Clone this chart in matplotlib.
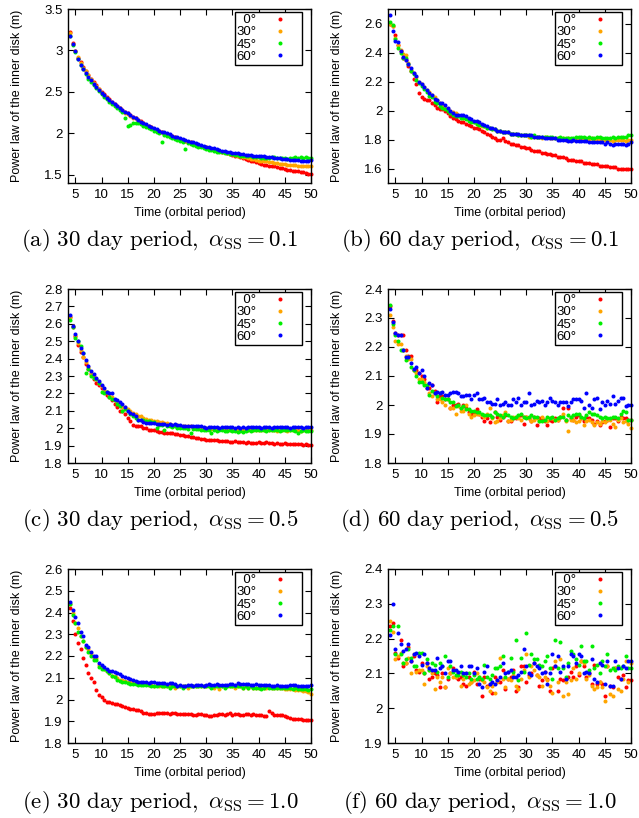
import numpy as np
import matplotlib
matplotlib.use('Agg')
import matplotlib.pyplot as plt
from matplotlib.lines import Line2D
from matplotlib.ticker import FormatStrFormatter

plt.rcParams['font.family'] = ['Liberation Sans', 'DejaVu Sans']
plt.rcParams['mathtext.fontset'] = 'cm'

# time grid (orbital period), one sample every half period
TIME = np.arange(4.0, 50.01, 0.5)
labels = ['\u20070°', '30°', '45°', '60°']
colors = ['#ff0000', '#ffa500', '#00ee00', '#0000ff']

# (a) 30 day period, alpha = 0.1
a_red = [3.22, 3.09, 2.99, 2.91, 2.86, 2.80, 2.75, 2.70, 2.66, 2.62,
         2.58, 2.54, 2.50, 2.47, 2.44, 2.41, 2.38, 2.35, 2.33, 2.30,
         2.28, 2.26, 2.24, 2.22, 2.20, 2.18, 2.16, 2.15, 2.12, 2.10,
         2.09, 2.07, 2.05, 2.04, 2.03, 2.01, 2.00, 1.99, 1.98, 1.97,
         1.96, 1.94, 1.93, 1.92, 1.91, 1.90, 1.89, 1.88, 1.87, 1.86,
         1.85, 1.84, 1.83, 1.82, 1.81, 1.80, 1.80, 1.79, 1.78, 1.77,
         1.76, 1.75, 1.74, 1.73, 1.72, 1.71, 1.70, 1.69, 1.68, 1.67,
         1.66, 1.65, 1.64, 1.63, 1.62, 1.62, 1.61, 1.60, 1.60, 1.59,
         1.58, 1.58, 1.57, 1.56, 1.56, 1.55, 1.55, 1.54, 1.53, 1.53,
         1.52, 1.51, 1.51]
a_orange = [3.21, 3.08, 2.99, 2.92, 2.85, 2.79, 2.75, 2.70, 2.65, 2.61,
            2.57, 2.53, 2.49, 2.46, 2.43, 2.40, 2.37, 2.34, 2.32, 2.30,
            2.27, 2.25, 2.23, 2.21, 2.19, 2.18, 2.16, 2.14, 2.12, 2.10,
            2.08, 2.07, 2.05, 2.03, 2.02, 2.01, 1.99, 1.98, 1.97, 1.96,
            1.95, 1.94, 1.93, 1.92, 1.91, 1.90, 1.89, 1.88, 1.87, 1.86,
            1.85, 1.84, 1.83, 1.82, 1.81, 1.80, 1.79, 1.79, 1.78, 1.77,
            1.76, 1.75, 1.75, 1.74, 1.73, 1.72, 1.71, 1.71, 1.70, 1.69,
            1.69, 1.68, 1.67, 1.67, 1.66, 1.66, 1.65, 1.65, 1.64, 1.64,
            1.63, 1.63, 1.63, 1.62, 1.62, 1.62, 1.62, 1.61, 1.61, 1.61,
            1.61, 1.61, 1.61]
a_green = [3.17, 3.07, 2.98, 2.90, 2.82, 2.77, 2.71, 2.66, 2.62, 2.58,
           2.55, 2.51, 2.47, 2.44, 2.41, 2.38, 2.35, 2.33, 2.30, 2.28,
           2.26, 2.18, 2.09, 2.10, 2.12, 2.13, 2.12, 2.11, 2.09, 2.08,
           2.06, 2.05, 2.03, 2.02, 2.00, 1.90, 1.98, 1.97, 1.96, 1.94,
           1.93, 1.92, 1.91, 1.90, 1.81, 1.88, 1.87, 1.86, 1.85, 1.84,
           1.83, 1.82, 1.81, 1.80, 1.80, 1.79, 1.78, 1.78, 1.77, 1.76,
           1.76, 1.75, 1.75, 1.74, 1.74, 1.73, 1.73, 1.72, 1.72, 1.72,
           1.71, 1.71, 1.71, 1.70, 1.70, 1.70, 1.70, 1.71, 1.71, 1.70,
           1.70, 1.70, 1.70, 1.69, 1.70, 1.70, 1.71, 1.70, 1.71, 1.70,
           1.71, 1.70, 1.70]
a_blue = [3.18, 3.08, 2.99, 2.90, 2.83, 2.78, 2.73, 2.68, 2.64, 2.60,
          2.56, 2.52, 2.49, 2.46, 2.43, 2.40, 2.38, 2.35, 2.33, 2.31,
          2.28, 2.26, 2.24, 2.22, 2.20, 2.18, 2.16, 2.14, 2.13, 2.11,
          2.09, 2.08, 2.06, 2.05, 2.03, 2.02, 2.01, 2.00, 1.99, 1.97,
          1.96, 1.95, 1.94, 1.93, 1.92, 1.91, 1.90, 1.89, 1.88, 1.87,
          1.86, 1.85, 1.84, 1.83, 1.82, 1.82, 1.81, 1.80, 1.79, 1.79,
          1.78, 1.77, 1.76, 1.76, 1.76, 1.75, 1.75, 1.74, 1.74, 1.74,
          1.73, 1.73, 1.73, 1.72, 1.72, 1.71, 1.71, 1.71, 1.70, 1.70,
          1.70, 1.69, 1.69, 1.69, 1.68, 1.68, 1.68, 1.68, 1.67, 1.67,
          1.67, 1.67, 1.68]

# (b) 60 day period, alpha = 0.1
b_red = [2.60, 2.58, 2.52, 2.45, 2.41, 2.36, 2.35, 2.31, 2.27, 2.22,
         2.18, 2.12, 2.09, 2.08, 2.07, 2.07, 2.05, 2.04, 2.02, 2.01,
         2.01, 2.00, 1.98, 1.96, 1.95, 1.94, 1.93, 1.92, 1.92, 1.91,
         1.90, 1.89, 1.88, 1.88, 1.87, 1.86, 1.85, 1.84, 1.83, 1.82,
         1.81, 1.80, 1.80, 1.81, 1.79, 1.78, 1.77, 1.77, 1.76, 1.76,
         1.75, 1.75, 1.74, 1.74, 1.73, 1.72, 1.72, 1.72, 1.71, 1.71,
         1.70, 1.70, 1.69, 1.69, 1.68, 1.68, 1.68, 1.67, 1.66, 1.66,
         1.66, 1.65, 1.65, 1.65, 1.64, 1.64, 1.64, 1.63, 1.63, 1.63,
         1.62, 1.62, 1.62, 1.62, 1.61, 1.61, 1.61, 1.60, 1.60, 1.60,
         1.60, 1.60, 1.60]
b_orange = [2.60, 2.58, 2.50, 2.45, 2.42, 2.39, 2.38, 2.33, 2.28, 2.26,
            2.23, 2.20, 2.18, 2.16, 2.14, 2.13, 2.11, 2.09, 2.07, 2.05,
            2.04, 2.02, 2.01, 2.00, 1.99, 1.98, 1.97, 1.96, 1.95, 1.95,
            1.94, 1.93, 1.92, 1.91, 1.90, 1.89, 1.89, 1.88, 1.88, 1.87,
            1.87, 1.86, 1.86, 1.85, 1.85, 1.85, 1.84, 1.84, 1.84, 1.83,
            1.83, 1.83, 1.83, 1.82, 1.82, 1.82, 1.82, 1.82, 1.81, 1.82,
            1.82, 1.81, 1.81, 1.81, 1.81, 1.81, 1.81, 1.80, 1.81, 1.80,
            1.80, 1.80, 1.80, 1.80, 1.80, 1.80, 1.80, 1.81, 1.80, 1.80,
            1.80, 1.80, 1.80, 1.80, 1.80, 1.79, 1.80, 1.80, 1.80, 1.80,
            1.79, 1.80, 1.80]
b_green = [2.61, 2.59, 2.49, 2.43, 2.40, 2.36, 2.36, 2.32, 2.27, 2.25,
           2.21, 2.19, 2.17, 2.15, 2.13, 2.10, 2.09, 2.06, 2.05, 2.03,
           2.02, 2.01, 2.00, 1.98, 1.97, 1.96, 1.96, 1.95, 1.95, 1.94,
           1.93, 1.92, 1.92, 1.91, 1.90, 1.90, 1.89, 1.88, 1.88, 1.87,
           1.87, 1.86, 1.86, 1.85, 1.85, 1.85, 1.84, 1.84, 1.84, 1.83,
           1.83, 1.83, 1.83, 1.83, 1.82, 1.83, 1.82, 1.82, 1.82, 1.82,
           1.82, 1.82, 1.82, 1.81, 1.81, 1.82, 1.81, 1.81, 1.81, 1.81,
           1.81, 1.82, 1.82, 1.82, 1.82, 1.81, 1.82, 1.81, 1.81, 1.82,
           1.82, 1.81, 1.81, 1.81, 1.81, 1.82, 1.81, 1.82, 1.82, 1.82,
           1.82, 1.83, 1.83]
b_blue = [2.66, 2.55, 2.48, 2.47, 2.41, 2.37, 2.35, 2.32, 2.29, 2.26,
          2.24, 2.20, 2.18, 2.16, 2.14, 2.12, 2.11, 2.08, 2.07, 2.05,
          2.05, 2.04, 2.02, 2.00, 1.98, 1.97, 1.97, 1.97, 1.97, 1.96,
          1.95, 1.94, 1.93, 1.93, 1.92, 1.91, 1.90, 1.89, 1.88, 1.88,
          1.87, 1.86, 1.86, 1.85, 1.85, 1.85, 1.84, 1.84, 1.84, 1.84,
          1.83, 1.83, 1.83, 1.83, 1.83, 1.82, 1.82, 1.82, 1.82, 1.81,
          1.81, 1.81, 1.81, 1.81, 1.80, 1.80, 1.80, 1.80, 1.79, 1.79,
          1.80, 1.79, 1.79, 1.79, 1.79, 1.79, 1.78, 1.78, 1.78, 1.78,
          1.78, 1.78, 1.77, 1.78, 1.77, 1.76, 1.77, 1.77, 1.77, 1.77,
          1.76, 1.77, 1.78]

# (c) 30 day period, alpha = 0.5
c_red = [2.64, 2.58, 2.53, 2.48, 2.44, 2.41, 2.37, 2.34, 2.31, 2.28,
         2.26, 2.25, 2.23, 2.21, 2.19, 2.18, 2.16, 2.14, 2.12, 2.10,
         2.10, 2.08, 2.06, 2.04, 2.02, 2.01, 2.01, 2.01, 2.00, 2.00,
         1.99, 1.99, 1.99, 1.985, 1.98, 1.98, 1.975, 1.975, 1.97, 1.97,
         1.965, 1.965, 1.96, 1.96, 1.955, 1.955, 1.95, 1.95, 1.945, 1.945,
         1.94, 1.94, 1.935, 1.93, 1.935, 1.93, 1.93, 1.925, 1.925, 1.925,
         1.925, 1.92, 1.92, 1.925, 1.92, 1.92, 1.92, 1.915, 1.92, 1.915,
         1.915, 1.915, 1.92, 1.915, 1.915, 1.92, 1.915, 1.915, 1.91, 1.915,
         1.91, 1.91, 1.915, 1.91, 1.91, 1.91, 1.91, 1.91, 1.91, 1.905,
         1.91, 1.905, 1.905]
c_orange = [2.64, 2.59, 2.53, 2.49, 2.45, 2.41, 2.38, 2.35, 2.32, 2.30,
            2.28, 2.26, 2.24, 2.22, 2.21, 2.19, 2.18, 2.16, 2.15, 2.14,
            2.12, 2.12, 2.11, 2.10, 2.09, 2.08, 2.07, 2.07, 2.06, 2.055,
            2.05, 2.045, 2.04, 2.04, 2.035, 2.035, 2.03, 2.03, 2.025, 2.02,
            2.02, 2.02, 2.015, 2.015, 2.01, 2.01, 2.01, 2.005, 2.005, 2.0,
            2.0, 2.0, 2.0, 2.0, 1.995, 2.0, 1.995, 1.995, 1.995, 1.995,
            1.995, 1.99, 1.995, 1.99, 1.995, 1.99, 1.99, 1.99, 1.99, 1.99,
            1.99, 1.99, 1.99, 1.99, 1.99, 1.99, 1.99, 1.99, 1.99, 1.985,
            1.99, 1.99, 1.99, 1.985, 1.99, 1.99, 1.99, 1.99, 1.985, 1.99,
            1.99, 1.99, 1.99]
c_green = [2.62, 2.58, 2.52, 2.50, 2.47, 2.43, 2.32, 2.34, 2.30, 2.29,
           2.28, 2.26, 2.21, 2.20, 2.21, 2.18, 2.17, 2.16, 2.14, 2.13,
           2.10, 2.11, 2.10, 2.08, 2.07, 2.06, 2.05, 2.05, 2.05, 2.04,
           2.04, 2.035, 2.035, 2.0, 2.02, 2.02, 1.99, 2.015, 2.01, 2.005,
           2.01, 2.0, 2.0, 2.0, 2.0, 1.995, 1.975, 1.995, 1.995, 1.995,
           1.99, 1.99, 1.99, 1.99, 1.975, 1.99, 1.985, 1.99, 1.99, 1.985,
           1.985, 1.99, 1.985, 1.985, 1.98, 1.985, 1.98, 1.985, 1.99, 1.985,
           1.99, 1.99, 1.99, 1.99, 1.99, 1.985, 1.99, 1.99, 1.99, 1.99,
           1.985, 1.99, 1.99, 1.99, 1.99, 1.99, 1.985, 1.975, 1.985, 1.99,
           1.985, 1.985, 1.985]
c_blue = [2.65, 2.59, 2.54, 2.50, 2.46, 2.43, 2.39, 2.36, 2.33, 2.31,
          2.29, 2.27, 2.25, 2.23, 2.21, 2.20, 2.20, 2.17, 2.16, 2.15,
          2.14, 2.12, 2.10, 2.09, 2.08, 2.07, 2.05, 2.045, 2.035, 2.03,
          2.03, 2.03, 2.03, 2.025, 2.025, 2.025, 2.025, 2.02, 2.025, 2.02,
          2.025, 2.02, 2.02, 2.015, 2.015, 2.015, 2.01, 2.01, 2.01, 2.01,
          2.01, 2.005, 2.0, 2.005, 2.005, 2.005, 2.005, 2.0, 2.005, 2.005,
          2.005, 2.005, 2.005, 2.0, 2.005, 2.0, 2.005, 2.0, 2.005, 2.005,
          2.005, 2.005, 2.005, 2.0, 2.005, 2.005, 2.005, 2.0, 2.005, 2.005,
          2.005, 2.005, 2.005, 2.005, 2.0, 2.005, 2.005, 2.005, 2.005, 2.0,
          2.005, 2.005, 2.005]

# (d) 60 day period, alpha = 0.5
d_red = [2.34, 2.29, 2.25, 2.24, 2.24, 2.24, 2.19, 2.17, 2.17, 2.12,
         2.12, 2.11, 2.10, 2.09, 2.06, 2.06, 2.07, 2.05, 2.01, 2.03,
         2.03, 2.02, 2.02, 1.99, 2.00, 2.00, 2.005, 1.99, 2.0, 1.99,
         1.975, 1.97, 1.975, 1.985, 1.97, 1.96, 1.945, 1.955, 1.94, 1.96,
         1.975, 1.96, 1.95, 1.96, 1.965, 1.945, 1.945, 1.955, 1.955, 1.96,
         1.965, 1.935, 1.96, 1.955, 1.945, 1.96, 1.93, 1.955, 1.955, 1.945,
         1.93, 1.95, 1.945, 1.955, 1.95, 1.96, 1.99, 1.95, 1.99, 1.955,
         1.95, 1.96, 1.965, 1.955, 1.945, 1.96, 1.955, 1.95, 1.935, 1.945,
         1.93, 1.94, 1.945, 1.95, 1.925, 1.955, 1.955, 1.945, 1.96, 1.955,
         1.955, 1.95, 1.95]
d_orange = [2.31, 2.27, 2.22, 2.21, 2.21, 2.19, 2.17, 2.16, 2.16, 2.12,
            2.11, 2.09, 2.09, 2.08, 2.07, 2.04, 2.03, 2.04, 2.02, 2.02,
            2.01, 2.0, 2.02, 1.99, 1.99, 1.97, 1.995, 1.98, 1.98, 2.0,
            1.97, 1.96, 1.965, 1.97, 1.97, 1.965, 1.96, 1.97, 1.99, 1.955,
            1.94, 1.945, 1.955, 1.965, 1.975, 1.945, 1.95, 1.96, 1.96, 1.955,
            1.95, 1.96, 1.96, 1.955, 1.945, 1.95, 1.955, 1.945, 1.96, 1.95,
            1.945, 1.955, 1.955, 1.95, 1.95, 1.96, 1.97, 1.945, 1.91, 1.95,
            1.95, 1.94, 1.945, 1.955, 1.93, 1.945, 1.95, 1.94, 1.93, 1.94,
            1.935, 1.945, 1.94, 1.95, 1.95, 1.935, 1.925, 1.95, 1.955, 1.94,
            1.945, 1.935, 1.92]
d_green = [2.345, 2.28, 2.24, 2.22, 2.19, 2.19, 2.155, 2.165, 2.13, 2.12,
           2.10, 2.08, 2.08, 2.07, 2.07, 2.035, 2.05, 2.04, 2.03, 2.04,
           2.025, 2.02, 2.02, 2.01, 2.01, 1.995, 2.0, 1.99, 1.995, 1.985,
           1.985, 1.98, 1.98, 1.975, 1.975, 1.97, 1.965, 1.965, 1.965, 1.96,
           1.975, 1.97, 1.965, 1.96, 1.97, 1.965, 1.96, 1.955, 1.96, 1.965,
           1.97, 1.96, 1.955, 1.96, 1.965, 1.96, 1.96, 1.945, 1.945, 1.95,
           1.96, 1.955, 1.96, 1.95, 1.955, 1.96, 1.96, 1.95, 1.965, 1.96,
           1.965, 1.97, 1.97, 1.96, 1.955, 1.965, 1.975, 1.97, 1.97, 1.965,
           1.96, 1.955, 1.96, 1.955, 1.955, 1.96, 1.96, 1.955, 1.97, 1.98,
           1.975, 1.95, 1.95]
d_blue = [2.33, 2.285, 2.25, 2.24, 2.24, 2.19, 2.165, 2.165, 2.145, 2.125,
          2.13, 2.11, 2.12, 2.10, 2.06, 2.075, 2.07, 2.04, 2.045, 2.04,
          2.045, 2.035, 2.035, 2.04, 2.045, 2.045, 2.04, 2.03, 2.03, 2.035,
          2.035, 2.02, 2.035, 2.04, 2.02, 2.02, 2.025, 2.01, 2.01, 2.005,
          2.005, 2.02, 2.0, 2.005, 2.01, 2.0, 2.0, 2.02, 2.01, 2.025,
          2.0, 2.01, 2.01, 2.04, 2.0, 2.005, 2.015, 2.01, 2.015, 2.0,
          2.01, 2.025, 2.015, 2.01, 2.0, 2.01, 2.01, 2.01, 1.995, 2.01,
          2.02, 2.02, 2.02, 2.015, 1.99, 2.04, 2.0, 1.99, 2.02, 2.025,
          1.985, 2.01, 2.0, 2.015, 2.005, 2.03, 2.005, 2.015, 2.025, 2.025,
          1.995, 2.0, 2.0]

# (e) 30 day period, alpha = 1.0
e_red = [2.42, 2.36, 2.30, 2.26, 2.23, 2.19, 2.16, 2.12, 2.10, 2.08,
         2.045, 2.02, 2.01, 2.0, 1.99, 1.99, 1.985, 1.98, 1.98, 1.975,
         1.97, 1.965, 1.96, 1.955, 1.955, 1.95, 1.95, 1.945, 1.94, 1.94,
         1.935, 1.935, 1.935, 1.94, 1.94, 1.94, 1.94, 1.94, 1.935, 1.94,
         1.94, 1.935, 1.935, 1.935, 1.935, 1.935, 1.935, 1.93, 1.93, 1.935,
         1.935, 1.93, 1.93, 1.925, 1.925, 1.93, 1.93, 1.935, 1.935, 1.93,
         1.935, 1.94, 1.93, 1.935, 1.935, 1.93, 1.93, 1.935, 1.935, 1.93,
         1.935, 1.93, 1.93, 1.93, 1.925, 1.925, 1.945, 1.94, 1.93, 1.93,
         1.93, 1.93, 1.925, 1.92, 1.915, 1.91, 1.91, 1.91, 1.91, 1.905,
         1.905, 1.905, 1.905]
e_orange = [2.44, 2.40, 2.35, 2.33, 2.29, 2.27, 2.24, 2.23, 2.21, 2.19,
            2.19, 2.16, 2.15, 2.14, 2.13, 2.12, 2.11, 2.11, 2.10, 2.09,
            2.09, 2.085, 2.08, 2.08, 2.075, 2.075, 2.07, 2.07, 2.07, 2.07,
            2.065, 2.065, 2.06, 2.065, 2.06, 2.06, 2.06, 2.06, 2.06, 2.06,
            2.055, 2.06, 2.06, 2.06, 2.06, 2.055, 2.06, 2.06, 2.06, 2.06,
            2.06, 2.06, 2.06, 2.06, 2.06, 2.055, 2.06, 2.05, 2.06, 2.06,
            2.06, 2.06, 2.06, 2.055, 2.06, 2.06, 2.055, 2.06, 2.055, 2.06,
            2.055, 2.055, 2.055, 2.06, 2.055, 2.055, 2.06, 2.055, 2.055, 2.055,
            2.055, 2.055, 2.05, 2.05, 2.05, 2.05, 2.045, 2.045, 2.045, 2.04,
            2.04, 2.035, 2.025]
e_green = [2.44, 2.39, 2.35, 2.31, 2.29, 2.27, 2.24, 2.22, 2.20, 2.18,
           2.18, 2.15, 2.14, 2.14, 2.13, 2.12, 2.11, 2.105, 2.09, 2.085,
           2.08, 2.08, 2.075, 2.07, 2.07, 2.07, 2.065, 2.065, 2.065, 2.065,
           2.065, 2.06, 2.06, 2.06, 2.065, 2.06, 2.06, 2.06, 2.055, 2.06,
           2.06, 2.06, 2.06, 2.055, 2.06, 2.06, 2.06, 2.06, 2.06, 2.06,
           2.06, 2.06, 2.06, 2.06, 2.055, 2.06, 2.06, 2.06, 2.06, 2.055,
           2.06, 2.06, 2.06, 2.06, 2.06, 2.06, 2.055, 2.06, 2.055, 2.06,
           2.055, 2.055, 2.055, 2.05, 2.055, 2.06, 2.055, 2.055, 2.055, 2.055,
           2.055, 2.055, 2.055, 2.055, 2.055, 2.05, 2.055, 2.05, 2.05, 2.05,
           2.05, 2.045, 2.05]
e_blue = [2.45, 2.41, 2.38, 2.35, 2.31, 2.29, 2.25, 2.24, 2.22, 2.20,
          2.20, 2.17, 2.16, 2.15, 2.14, 2.13, 2.13, 2.125, 2.12, 2.115,
          2.11, 2.105, 2.10, 2.095, 2.09, 2.085, 2.08, 2.08, 2.08, 2.08,
          2.075, 2.08, 2.08, 2.075, 2.075, 2.075, 2.075, 2.07, 2.075, 2.075,
          2.07, 2.06, 2.065, 2.06, 2.06, 2.065, 2.065, 2.06, 2.065, 2.065,
          2.065, 2.06, 2.065, 2.07, 2.065, 2.065, 2.07, 2.065, 2.065, 2.065,
          2.065, 2.07, 2.07, 2.065, 2.075, 2.07, 2.07, 2.07, 2.07, 2.065,
          2.065, 2.07, 2.065, 2.065, 2.065, 2.065, 2.065, 2.06, 2.06, 2.065,
          2.06, 2.06, 2.06, 2.06, 2.065, 2.065, 2.065, 2.06, 2.06, 2.06,
          2.06, 2.06, 2.065]

# (f) 60 day period, alpha = 1.0
f_red = [2.235, 2.245, 2.16, 2.145, 2.195, 2.12, 2.13, 2.175, 2.135, 2.15,
         2.11, 2.105, 2.13, 2.10, 2.13, 2.085, 2.09, 2.10, 2.095, 2.06,
         2.10, 2.06, 2.085, 2.10, 2.115, 2.09, 2.085, 2.09, 2.07, 2.065,
         2.09, 2.075, 2.105, 2.07, 2.085, 2.035, 2.09, 2.065, 2.07, 2.045,
         2.09, 2.08, 2.075, 2.11, 2.055, 2.085, 2.09, 2.11, 2.05, 2.06,
         2.12, 2.12, 2.075, 2.095, 2.10, 2.13, 2.095, 2.065, 2.08, 2.105,
         2.085, 2.05, 2.115, 2.12, 2.05, 2.085, 2.08, 2.085, 2.09, 2.105,
         2.09, 2.12, 2.095, 2.135, 2.12, 2.09, 2.10, 2.07, 2.125, 2.07,
         2.075, 2.07, 2.035, 2.12, 2.065, 2.06, 2.115, 2.09, 2.085, 2.095,
         2.06, 2.08, 2.08]
f_orange = [2.25, 2.22, 2.14, 2.15, 2.16, 2.13, 2.13, 2.145, 2.10, 2.155,
            2.105, 2.11, 2.11, 2.07, 2.12, 2.11, 2.10, 2.055, 2.09, 2.075,
            2.09, 2.06, 2.115, 2.10, 2.09, 2.09, 2.10, 2.065, 2.085, 2.10,
            2.07, 2.075, 2.08, 2.10, 2.09, 2.08, 2.075, 2.06, 2.05, 2.065,
            2.045, 2.075, 2.145, 2.085, 2.06, 2.085, 2.08, 2.095, 2.065, 2.055,
            2.085, 2.11, 2.155, 2.09, 2.12, 2.11, 2.095, 2.09, 2.065, 2.09,
            2.08, 2.065, 2.045, 2.135, 2.075, 2.14, 2.035, 2.075, 2.04, 2.08,
            2.115, 2.085, 2.10, 2.135, 2.13, 2.085, 2.095, 2.065, 2.055, 2.06,
            2.075, 2.06, 2.02, 2.12, 2.04, 2.035, 2.115, 2.055, 2.05, 2.085,
            2.135, 2.075, 2.13]
f_green = [2.225, 2.235, 2.155, 2.235, 2.155, 2.13, 2.14, 2.17, 2.145, 2.12,
           2.12, 2.16, 2.16, 2.10, 2.14, 2.11, 2.13, 2.125, 2.105, 2.13,
           2.12, 2.15, 2.09, 2.12, 2.105, 2.095, 2.095, 2.105, 2.095, 2.09,
           2.10, 2.085, 2.095, 2.085, 2.09, 2.085, 2.125, 2.09, 2.085, 2.095,
           2.115, 2.115, 2.12, 2.15, 2.09, 2.105, 2.145, 2.105, 2.195, 2.08,
           2.145, 2.105, 2.215, 2.125, 2.155, 2.14, 2.14, 2.125, 2.12, 2.135,
           2.15, 2.115, 2.085, 2.195, 2.115, 2.19, 2.115, 2.09, 2.13, 2.165,
           2.155, 2.14, 2.125, 2.18, 2.135, 2.135, 2.11, 2.18, 2.115, 2.125,
           2.10, 2.135, 2.12, 2.155, 2.11, 2.115, 2.11, 2.12, 2.115, 2.12,
           2.15, 2.115, 2.115]
f_blue = [2.21, 2.30, 2.17, 2.215, 2.185, 2.165, 2.17, 2.185, 2.135, 2.155,
          2.16, 2.15, 2.125, 2.155, 2.13, 2.115, 2.11, 2.11, 2.145, 2.115,
          2.12, 2.10, 2.135, 2.135, 2.11, 2.11, 2.105, 2.12, 2.10, 2.10,
          2.12, 2.12, 2.10, 2.115, 2.07, 2.06, 2.105, 2.12, 2.07, 2.075,
          2.07, 2.08, 2.09, 2.13, 2.10, 2.105, 2.11, 2.09, 2.09, 2.095,
          2.105, 2.17, 2.12, 2.10, 2.095, 2.13, 2.12, 2.115, 2.10, 2.105,
          2.07, 2.10, 2.155, 2.12, 2.15, 2.105, 2.12, 2.085, 2.12, 2.155,
          2.15, 2.13, 2.155, 2.15, 2.10, 2.105, 2.10, 2.14, 2.085, 2.075,
          2.13, 2.125, 2.07, 2.135, 2.065, 2.065, 2.135, 2.115, 2.085, 2.12,
          2.115, 2.135, 2.135]

a_yticks = [1.5, 2.0, 2.5, 3.0, 3.5]
b_yticks = [1.6, 1.8, 2.0, 2.2, 2.4, 2.6]
c_yticks = [1.8, 1.9, 2.0, 2.1, 2.2, 2.3, 2.4, 2.5, 2.6, 2.7, 2.8]
d_yticks = [1.8, 1.9, 2.0, 2.1, 2.2, 2.3, 2.4]
e_yticks = [1.8, 1.9, 2.0, 2.1, 2.2, 2.3, 2.4, 2.5, 2.6]
f_yticks = [1.9, 2.0, 2.1, 2.2, 2.3, 2.4]
xticks = [5, 10, 15, 20, 25, 30, 35, 40, 45, 50]

captions = [r'$\mathrm{(a)\ 30\ day\ period,\ }\alpha_{\mathrm{SS}}=0.1$',
            r'$\mathrm{(b)\ 60\ day\ period,\ }\alpha_{\mathrm{SS}}=0.1$',
            r'$\mathrm{(c)\ 30\ day\ period,\ }\alpha_{\mathrm{SS}}=0.5$',
            r'$\mathrm{(d)\ 60\ day\ period,\ }\alpha_{\mathrm{SS}}=0.5$',
            r'$\mathrm{(e)\ 30\ day\ period,\ }\alpha_{\mathrm{SS}}=1.0$',
            r'$\mathrm{(f)\ 60\ day\ period,\ }\alpha_{\mathrm{SS}}=1.0$']

panels = [
    ([a_red, a_orange, a_green, a_blue], (1.4, 3.5), a_yticks),
    ([b_red, b_orange, b_green, b_blue], (1.5, 2.7), b_yticks),
    ([c_red, c_orange, c_green, c_blue], (1.8, 2.8), c_yticks),
    ([d_red, d_orange, d_green, d_blue], (1.8, 2.4), d_yticks),
    ([e_red, e_orange, e_green, e_blue], (1.8, 2.6), e_yticks),
    ([f_red, f_orange, f_green, f_blue], (1.9, 2.4), f_yticks),
]

W, H = 639, 818
fig = plt.figure(figsize=(W / 100, H / 100), dpi=100)

lefts = [68, 388]
tops = [9, 289, 569]
cap_y = [240, 521, 802]
aw, ah = 243, 174

for k, (series, ylim, yticks) in enumerate(panels):
    row, col = divmod(k, 2)
    l, t = lefts[col], tops[row]
    ax = fig.add_axes([l / W, 1 - (t + ah) / H, aw / W, ah / H])
    for y, c in zip(series, colors):
        ax.plot(TIME[:len(y)], y, ls='none', marker='o', ms=2.9, mew=0,
                color=c, clip_on=False)
    ax.set_xlim(3.6, 50)
    ax.set_ylim(*ylim)
    ax.set_xticks(xticks)
    ax.set_yticks(yticks)
    ax.yaxis.set_major_formatter(FormatStrFormatter('%g'))
    ax.tick_params(direction='in', top=True, right=True, length=4,
                   width=0.8, labelsize=9.5, pad=4)
    for s in ax.spines.values():
        s.set_linewidth(1.0)
    ax.set_xlabel('Time (orbital period)', fontsize=9)
    ax.set_ylabel('Power law of the inner disk (m)', fontsize=9)
    ax.xaxis.set_label_coords(0.5, -0.138)
    ax.yaxis.set_label_coords(-0.186, 0.5)

    handles = [Line2D([], [], ls='none', marker='o', ms=2.9, mew=0, color=c)
               for c in colors]
    leg = ax.legend(handles, labels, loc='upper right',
                    bbox_to_anchor=(1 - 9 / aw, 1 - 3 / ah), borderaxespad=0,
                    markerfirst=False, fancybox=False, framealpha=1,
                    edgecolor='black', fontsize=9.5, borderpad=0.15,
                    labelspacing=0.0, handletextpad=0.3, handlelength=3.0)
    leg.get_frame().set_linewidth(1.0)

    fig.text((160 + 320 * col) / W, 1 - cap_y[row] / H, captions[k],
             ha='center', va='center', fontsize=16.5)

fig.savefig('out.png', dpi=100)
